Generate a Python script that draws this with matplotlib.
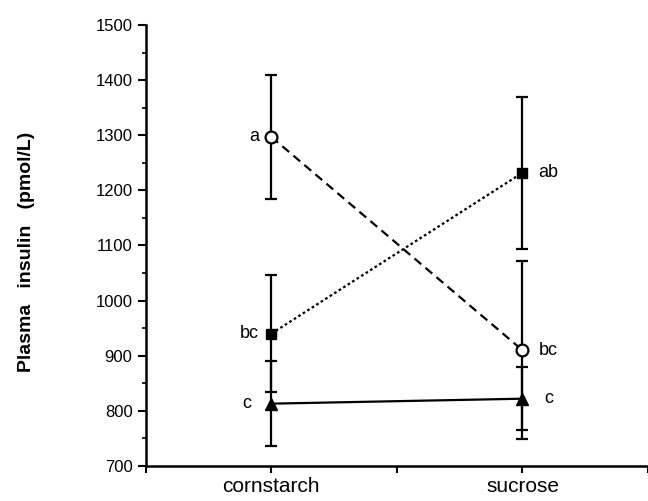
import matplotlib.pyplot as plt
from matplotlib.ticker import MultipleLocator

plt.rcParams['font.family'] = ['Liberation Sans', 'DejaVu Sans']

# diets and group means / SE
diets = ['cornstarch', 'sucrose']
x_pos = [1, 2]

circle_mean = [1297, 910]
circle_se = [113, 162]
circle_lbl = ['a', 'bc']

square_mean = [940, 1232]
square_se = [106, 138]
square_lbl = ['bc', 'ab']

triangle_mean = [813, 822]
triangle_se = [77, 57]
triangle_lbl = ['c', 'c']


def main():
    fig = plt.figure(figsize=(6.48, 5.01), dpi=100)
    ax = fig.add_axes([0.225, 0.07, 0.775, 0.88])

    common = dict(color='black', ecolor='black', elinewidth=1.6, capsize=4,
                  capthick=1.6, linewidth=1.6)
    ax.errorbar(x_pos, circle_mean, yerr=circle_se, fmt='o', linestyle=(0, (4, 2.5)),
                markerfacecolor='white', markeredgecolor='black', markeredgewidth=1.6,
                markersize=8.5, zorder=3, **common)
    ax.errorbar(x_pos, square_mean, yerr=square_se, fmt='s', linestyle=(0, (1.2, 1.2)),
                markersize=7, zorder=3, **common)
    ax.errorbar(x_pos, triangle_mean, yerr=triangle_se, fmt='^', linestyle='-',
                markersize=8.5, zorder=3, **common)

    # significance letters: left side for cornstarch, right side for sucrose
    groups = [(circle_mean, circle_lbl, 0.05, 0.064),
              (square_mean, square_lbl, 0.05, 0.064),
              (triangle_mean, triangle_lbl, 0.08, 0.085)]
    for means, labels, off_l, off_r in groups:
        ax.text(x_pos[0] - off_l, means[0], labels[0], ha='right', va='center', fontsize=13)
        ax.text(x_pos[1] + off_r, means[1], labels[1], ha='left', va='center', fontsize=13)

    ax.set_xlim(0.5, 2.5)
    ax.set_ylim(700, 1500)
    ax.set_xticks(x_pos)
    ax.set_xticklabels(diets, fontsize=15)
    ax.xaxis.set_minor_locator(MultipleLocator(0.5))
    ax.yaxis.set_major_locator(MultipleLocator(100))
    ax.yaxis.set_minor_locator(MultipleLocator(50))
    ax.tick_params(axis='y', labelsize=12, width=1.5, length=6, direction='out')
    ax.tick_params(axis='y', which='minor', width=1.2, length=3)
    ax.tick_params(axis='x', width=1.5, length=5, direction='out', pad=3)
    ax.tick_params(axis='x', which='minor', width=1.5, length=5)

    ax.spines['top'].set_visible(False)
    ax.spines['right'].set_visible(False)
    ax.spines['left'].set_linewidth(1.8)
    ax.spines['bottom'].set_linewidth(1.8)

    ax.set_ylabel('Plasma   insulin   (pmol/L)', fontsize=14, fontweight='bold')
    ax.yaxis.set_label_coords(-0.22, 0.485)

    fig.savefig('out.png', dpi=100)


if __name__ == '__main__':
    main()
